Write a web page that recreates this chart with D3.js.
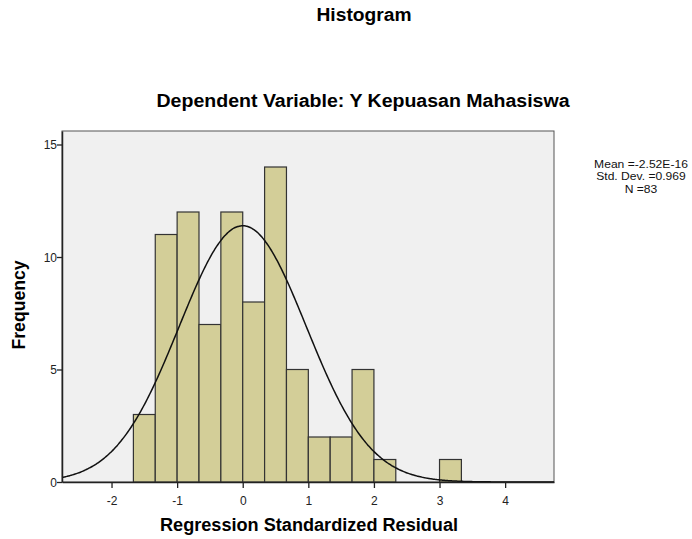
<!DOCTYPE html>
<html>
<head>
<meta charset="utf-8">
<script src="https://cdn.jsdelivr.net/npm/d3@7"></script>
<style>
  body { margin: 0; background: #fff; }
  text { font-family: "Liberation Sans", Arial, sans-serif; }
</style>
</head>
<body>
<div id="chart"></div>
<script>
// Bin edges (width 1/3) and counts
const binStarts = [-5/3, -4/3, -1, -2/3, -1/3, 0, 1/3, 2/3, 1, 4/3, 5/3, 2, 7/3, 8/3, 3];
const counts    = [3, 11, 12, 7, 12, 8, 14, 5, 2, 2, 5, 1, 0, 0, 1];
const binWidth = 1 / 3;

const xTicks = [-2, -1, 0, 1, 2, 3, 4];
const yTicks = [0, 5, 10, 15];

const statLines = ["Mean =-2.52E-16", "Std. Dev. =0.969", "N =83"];
const mean = -2.52e-16, sd = 0.969, n = 83;

const width = 692, height = 539;
const margin = { left: 62, right: 138, top: 131, bottom: 57 };

const svg = d3.select("#chart")
    .append("svg")
    .attr("width", width)
    .attr("height", height);

const x = d3.scaleLinear()
    .domain([-2.755, 4.745])
    .range([margin.left, width - margin.right]);

const y = d3.scaleLinear()
    .domain([0, 15.6])
    .range([height - margin.bottom, margin.top]);

// Plot background
svg.append("rect")
    .attr("x", x.range()[0])
    .attr("y", y.range()[1])
    .attr("width", x.range()[1] - x.range()[0])
    .attr("height", y.range()[0] - y.range()[1])
    .attr("fill", "#f0f0f0")
    .attr("stroke", "#555")
    .attr("stroke-width", 1);

// Bars
const bins = binStarts.map((b, i) => ({ x0: b, x1: b + binWidth, count: counts[i] }))
    .filter(d => d.count > 0);

svg.append("g")
    .selectAll("rect")
    .data(bins)
    .enter()
    .append("rect")
    .attr("x", d => x(d.x0))
    .attr("y", d => y(d.count))
    .attr("width", d => x(d.x1) - x(d.x0))
    .attr("height", d => y(0) - y(d.count))
    .attr("fill", "#d3ce98")
    .attr("stroke", "#333")
    .attr("stroke-width", 1.2);

// Normal curve from the stated mean / sd / N
const pdf = v => Math.exp(-0.5 * ((v - mean) / sd) ** 2) / (sd * Math.sqrt(2 * Math.PI));
const curveX = d3.range(x.domain()[0], x.domain()[1] + 0.001, 0.02);
const line = d3.line()
    .x(d => x(d))
    .y(d => y(n * binWidth * pdf(d)))
    .curve(d3.curveBasis);

svg.append("path")
    .datum(curveX)
    .attr("d", line)
    .attr("fill", "none")
    .attr("stroke", "#111")
    .attr("stroke-width", 1.5);

// Axes (plain hyphen for negatives, like the original)
const fmt = d => String(d);

const xAxis = svg.append("g")
    .attr("transform", `translate(0,${y(0)})`)
    .call(d3.axisBottom(x).tickValues(xTicks).tickSize(6).tickSizeOuter(0).tickFormat(fmt));

const yAxis = svg.append("g")
    .attr("transform", `translate(${x.range()[0]},0)`)
    .call(d3.axisLeft(y).tickValues(yTicks).tickSize(5).tickSizeOuter(0).tickFormat(fmt));

[xAxis, yAxis].forEach(a => {
    a.select(".domain").attr("stroke", "#222").attr("stroke-width", 1.5);
    a.selectAll(".tick line").attr("stroke", "#222").attr("stroke-width", 1.3);
    a.selectAll(".tick text")
        .attr("fill", "#222")
        .style("font-size", "12px")
        .style("font-family", "'Liberation Sans', Arial, sans-serif");
});
xAxis.selectAll(".tick text").attr("dy", "1.2em");
yAxis.selectAll(".tick text").attr("x", -5).attr("dy", "0.35em");

// Titles
function label(txt, xPos, yPos, len, rotate) {
    const t = svg.append("text")
        .attr("text-anchor", "middle")
        .style("font-size", "18px")
        .style("font-weight", "bold")
        .attr("textLength", len)
        .attr("lengthAdjust", "spacingAndGlyphs")
        .text(txt);
    if (rotate) t.attr("transform", `translate(${xPos},${yPos}) rotate(-90)`);
    else t.attr("x", xPos).attr("y", yPos);
    return t;
}

label("Histogram", 364, 21, 95);
label("Dependent Variable: Y Kepuasan Mahasiswa", 363, 107, 413);
label("Regression Standardized Residual", 309, 531, 298);
label("Frequency", 25, 305, 89, true);

// Stats box
svg.append("g")
    .selectAll("text")
    .data(statLines)
    .enter()
    .append("text")
    .attr("x", 641)
    .attr("y", (d, i) => 167.5 + i * 12.6)
    .attr("text-anchor", "middle")
    .style("font-size", "11px")
    .attr("fill", "#111")
    .text(d => d)
    .each(function () {
        // stretch a touch to the original's wider glyphs
        const w = this.getComputedTextLength();
        d3.select(this).attr("textLength", w * 1.1).attr("lengthAdjust", "spacingAndGlyphs");
    });
</script>
</body>
</html>
